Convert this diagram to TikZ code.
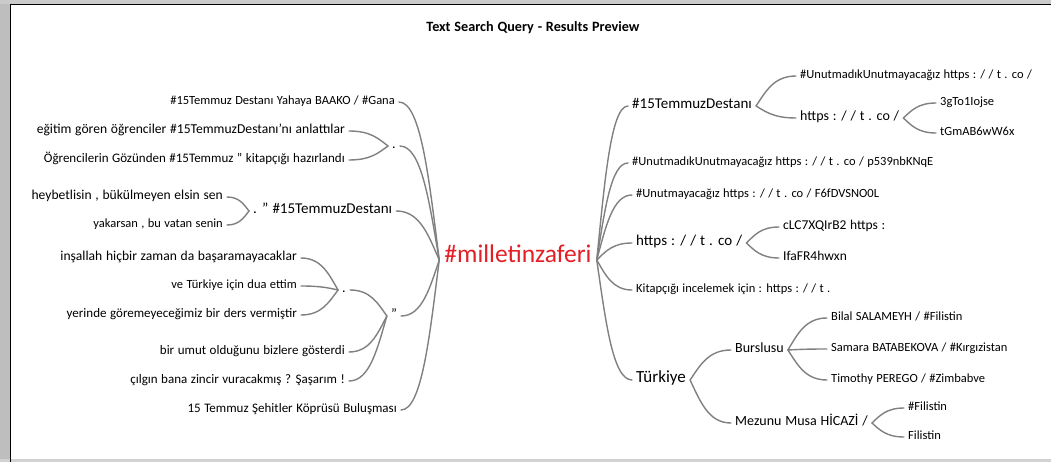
\documentclass[tikz,border=0pt]{standalone}
\usepackage{fontspec}
\setmainfont{Carlito}[WordSpace=1.2]
\usetikzlibrary{calc}
\definecolor{linegray}{RGB}{128,128,128}
\definecolor{mapred}{RGB}{226,30,38}
\definecolor{framegray}{RGB}{190,190,190}
\tikzset{
  br/.style={to path={let \p1=(\tikztostart), \p2=(\tikztotarget) in
     .. controls ({\x1+0.25*(\x2-\x1)},{\y1+0.5*(\y2-\y1)}) and ({\x2-0.55*(\x2-\x1)},\y2) .. (\tikztotarget)}},
  conn/.style={draw=linegray, line width=1.4pt, line cap=round},
  txt/.style={inner xsep=4pt, inner ysep=0pt, text height=1.5ex, text depth=0.4ex, font=\fontsize{12.5}{14}\selectfont},
  ltxt/.style={txt, font=\fontsize{13}{15}\selectfont},
  ltxtb/.style={txt, font=\fontsize{13.6}{15}\selectfont},
  stxt/.style={txt, font=\fontsize{13.5}{15}\selectfont},
  mid/.style={txt, font=\fontsize{14}{16}\selectfont},
  big/.style={txt, font=\fontsize{15}{17}\selectfont},
  huge/.style={txt, font=\fontsize{17}{19}\selectfont},
  root/.style={txt, inner xsep=5pt, text=mapred, font=\fontsize{25.5}{28}\selectfont},
  titletxt/.style={font=\fontsize{14.2}{16}\bfseries\selectfont}
}
\begin{document}
\begin{tikzpicture}[x=1pt,y=-1pt]
\useasboundingbox (0,0) rectangle (1051,462);
% frame
\fill[framegray] (0,0) rectangle (10,462);
\fill[framegray!80] (0,0) rectangle (1051,4);
\fill[framegray!70] (0,459) rectangle (1051,462);
\draw[black, line width=1.2pt] (10.5,462) -- (10.5,4.5) -- (1051,4.5);
% title
\node[titletxt] (title) at (533,28) {Text Search Query - Results Preview};
% root
\node[root] (c) at (518,260) {\#milletinzaferi};
% ---------- left side ----------
\node[txt, anchor=east] (l1) at (399,102) {\#15Temmuz Destanı Yahaya BAAKO / \#Gana};
\node[mid] (l2) at (394,146) {.};
\node[ltxtb, anchor=east] (l2a) at (349,131) {eğitim gören öğrenciler \#15TemmuzDestanı’nı anlattılar};
\node[ltxt, anchor=east] (l2b) at (349,160) {Öğrencilerin Gözünden \#15Temmuz " kitapçığı hazırlandı};
\node[big, anchor=west] (l3) at (249,211) {. " \#15TemmuzDestanı};
\node[ltxtb, anchor=east] (l3a) at (227,197) {heybetlisin , bükülmeyen elsin sen};
\node[txt, anchor=east] (l3b) at (227,225) {yakarsan , bu vatan senin};
\node[mid] (l4) at (394,316) {"};
\node[mid] (l4a) at (344,290) {.};
\node[ltxtb, anchor=east] (l4a1) at (301,258) {inşallah hiçbir zaman da başaramayacaklar};
\node[txt, anchor=east] (l4a2) at (301,286) {ve Türkiye için dua ettim};
\node[ltxt, anchor=east] (l4a3) at (301,315) {yerinde göremeyeceğimiz bir ders vermiştir};
\node[ltxt, anchor=east] (l4b) at (349,352) {bir umut olduğunu bizlere gösterdi};
\node[ltxt, anchor=east] (l4c) at (349,381) {çılgın bana zincir vuracakmış ? Şaşarım !};
\node[ltxt, anchor=east] (l5) at (401,410) {15 Temmuz Şehitler Köprüsü Buluşması};
% ---------- right side ----------
\node[big, anchor=west] (r1) at (628,106) {\#15TemmuzDestanı};
\node[txt, anchor=west] (r1a) at (796,76) {\#UnutmadıkUnutmayacağız https : / / t . co /};
\node[mid, anchor=west] (r1b) at (796,118) {https : / / t . co /};
\node[txt, anchor=west] (r1b1) at (936,103) {3gTo1Iojse};
\node[txt, anchor=west] (r1b2) at (936,133) {tGmAB6wW6x};
\node[txt, anchor=west] (r2) at (628,163) {\#UnutmadıkUnutmayacağız https : / / t . co / p539nbKNqE};
\node[txt, anchor=west] (r3) at (632,195) {\#Unutmayacağız https : / / t . co / F6fDVSNO0L};
\node[big, anchor=west] (r4) at (632,243) {https : / / t . co /};
\node[stxt, anchor=west] (r4a) at (779,227) {cLC7XQIrB2 https :};
\node[stxt, anchor=west] (r4b) at (779,258) {IfaFR4hwxn};
\node[txt, anchor=west] (r5) at (632,290) {Kitapçığı incelemek için : https : / / t .};
\node[huge, anchor=west] (r6) at (632,380) {Türkiye};
\node[mid, anchor=west] (r6a) at (731,350) {Burslusu};
\node[txt, anchor=west] (r6a1) at (827,318) {Bilal SALAMEYH / \#Filistin};
\node[txt, anchor=west] (r6a2) at (827,349) {Samara BATABEKOVA / \#Kırgızistan};
\node[txt, anchor=west] (r6a3) at (827,380) {Timothy PEREGO / \#Zimbabve};
\node[mid, anchor=west] (r6b) at (731,423) {Mezunu Musa HİCAZİ /};
\node[txt, anchor=west] (r6b1) at (904,408) {\#Filistin};
\node[txt, anchor=west] (r6b2) at (904,437) {Filistin};
% ---------- connectors ----------
\foreach \t in {l1,l2,l3,l4,l5} \draw[conn] (c.west) to[br] (\t.east);
\foreach \t in {l2a,l2b} \draw[conn] (l2.west) to[br] (\t.east);
\foreach \t in {l3a,l3b} \draw[conn] (l3.west) to[br] (\t.east);
\foreach \t in {l4a,l4b,l4c} \draw[conn] (l4.west) to[br] (\t.east);
\foreach \t in {l4a1,l4a2,l4a3} \draw[conn] (l4a.west) to[br] (\t.east);
\foreach \t in {r1,r2,r3,r4,r5,r6} \draw[conn] (c.east) to[br] (\t.west);
\foreach \t in {r1a,r1b} \draw[conn] (r1.east) to[br] (\t.west);
\foreach \t in {r1b1,r1b2} \draw[conn] (r1b.east) to[br] (\t.west);
\foreach \t in {r4a,r4b} \draw[conn] (r4.east) to[br] (\t.west);
\foreach \t in {r6a,r6b} \draw[conn] (r6.east) to[br] (\t.west);
\foreach \t in {r6a1,r6a2,r6a3} \draw[conn] (r6a.east) to[br] (\t.west);
\foreach \t in {r6b1,r6b2} \draw[conn] (r6b.east) to[br] (\t.west);
\end{tikzpicture}
\end{document}
